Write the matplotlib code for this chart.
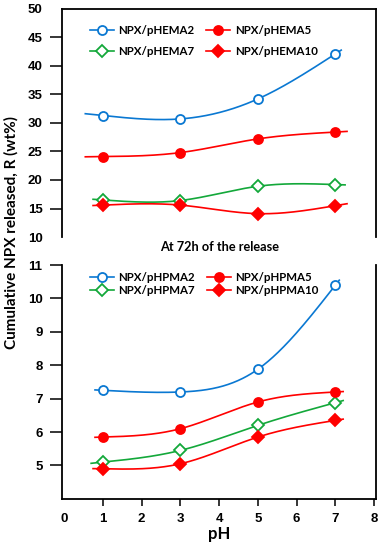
import numpy as np
import matplotlib
matplotlib.use("Agg")
import matplotlib.pyplot as plt

# pH values
ph = [1, 3, 5, 7]

# top panel: pHEMA series (wt%)
phema2 = [31.3, 30.7, 34.2, 42.1]
phema5 = [24.1, 24.8, 27.2, 28.4]
phema7 = [16.5, 16.4, 18.9, 19.2]
phema10 = [15.6, 15.6, 14.1, 15.5]

# bottom panel: pHPMA series (wt%)
phpma2 = [7.25, 7.2, 7.88, 10.4]
phpma5 = [5.85, 6.1, 6.9, 7.2]
phpma7 = [5.1, 5.45, 6.2, 6.88]
phpma10 = [4.9, 5.05, 5.85, 6.35]

top_ticks = [10, 15, 20, 25, 30, 35, 40, 45, 50]
bot_ticks = [5, 6, 7, 8, 9, 10, 11]
x_ticks = [0, 1, 2, 3, 4, 5, 6, 7, 8]

blue = '#0a78d2'
red = '#ff0000'
green = '#13a83a'
tickfont = 'Liberation Sans'
txtfont = 'Lato'

fig = plt.figure(figsize=(3.83, 5.5), dpi=100)
ax1 = fig.add_axes([0.162, 0.569, 0.82, 0.415])
ax2 = fig.add_axes([0.162, 0.093, 0.82, 0.425])


def natural_spline(x, y, xs):
    # natural cubic spline, straight line past the end points
    x = np.asarray(x, float)
    y = np.asarray(y, float)
    n = len(x)
    h = np.diff(x)
    A = np.zeros((n, n))
    b = np.zeros(n)
    A[0, 0] = A[-1, -1] = 1
    for i in range(1, n - 1):
        A[i, i - 1] = h[i - 1]
        A[i, i] = 2 * (h[i - 1] + h[i])
        A[i, i + 1] = h[i]
        b[i] = 6 * ((y[i + 1] - y[i]) / h[i] - (y[i] - y[i - 1]) / h[i - 1])
    M = np.linalg.solve(A, b)
    out = np.empty_like(xs)
    for k, t in enumerate(xs):
        if t < x[0]:
            s = (y[1] - y[0]) / h[0] - h[0] * (2 * M[0] + M[1]) / 6
            out[k] = y[0] + s * (t - x[0])
            continue
        if t > x[-1]:
            s = (y[-1] - y[-2]) / h[-1] + h[-1] * (M[-2] + 2 * M[-1]) / 6
            out[k] = y[-1] + s * (t - x[-1])
            continue
        i = min(np.searchsorted(x, t) - 1, n - 2)
        i = max(i, 0)
        a = x[i + 1] - t
        c = t - x[i]
        out[k] = (M[i] * a ** 3 + M[i + 1] * c ** 3) / (6 * h[i]) \
            + (y[i] / h[i] - M[i] * h[i] / 6) * a \
            + (y[i + 1] / h[i] - M[i + 1] * h[i] / 6) * c
    return out


def smooth(ax, y, color, marker, filled, x0, x1, label):
    xs = np.linspace(x0, x1, 300)
    ax.plot(xs, natural_spline(ph, y, xs), color=color, lw=1.2, zorder=2)
    face = color if filled else 'white'
    ms = 6.5 if marker == 'o' else 6
    ax.plot(ph, y, linestyle='none', marker=marker, ms=ms, mfc=face,
            mec=color, mew=1.3, zorder=3)
    h, = ax.plot([], [], color=color, lw=1.2, marker=marker, ms=ms,
                 mfc=face, mec=color, mew=1.3, label=label)
    return h


hs = []
hs.append(smooth(ax1, phema2, blue, 'o', False, 0.55, 7.15, 'NPX/pHEMA2'))
hs.append(smooth(ax1, phema7, green, 'D', False, 0.75, 7.25, 'NPX/pHEMA7'))
hs.append(smooth(ax1, phema5, red, 'o', True, 0.55, 7.3, 'NPX/pHEMA5'))
hs.append(smooth(ax1, phema10, red, 'D', True, 0.75, 7.3, 'NPX/pHEMA10'))

hb = []
hb.append(smooth(ax2, phpma2, blue, 'o', False, 0.8, 7.1, 'NPX/pHPMA2'))
hb.append(smooth(ax2, phpma7, green, 'D', False, 0.7, 7.2, 'NPX/pHPMA7'))
hb.append(smooth(ax2, phpma5, red, 'o', True, 0.8, 7.2, 'NPX/pHPMA5'))
hb.append(smooth(ax2, phpma10, red, 'D', True, 0.75, 7.2, 'NPX/pHPMA10'))

legprop = {'family': txtfont, 'weight': 'bold', 'size': 8.3}
ax1.legend(handles=hs, ncol=2, loc='upper left', bbox_to_anchor=(0.055, 0.975),
           frameon=False, prop=legprop, handlelength=2.1, handletextpad=0.4,
           columnspacing=1.0, labelspacing=0.9)
ax2.legend(handles=hb, ncol=2, loc='upper left', bbox_to_anchor=(0.055, 1.015),
           frameon=False, prop=legprop, handlelength=2.1, handletextpad=0.4,
           columnspacing=1.0, labelspacing=0.2)

for ax in (ax1, ax2):
    ax.set_xlim(-0.05, 8.05)
    for s in ax.spines.values():
        s.set_linewidth(1.3)
    ax.tick_params(axis='y', direction='out', width=1.1, length=9, pad=5)
    ax.tick_params(axis='x', direction='out', width=1.1, length=5, pad=5)

ax1.set_ylim(10, 50)
ax1.set_yticks(top_ticks)
ax1.spines['bottom'].set_visible(False)
ax1.set_xticks([])
ax2.set_ylim(4, 11)
ax2.set_yticks(bot_ticks)
ax2.spines['top'].set_visible(False)
ax2.set_xticks(x_ticks)

# no tick mark at the top of the upper panel or at pH 0
ax1.yaxis.get_major_ticks()[-1].tick1line.set_visible(False)
ax1.yaxis.get_major_ticks()[0].tick1line.set_visible(False)
ax2.xaxis.get_major_ticks()[0].tick1line.set_visible(False)

for ax in (ax1, ax2):
    for lab in ax.get_yticklabels() + ax.get_xticklabels():
        lab.set_fontfamily(tickfont)
        lab.set_fontweight('bold')
        lab.set_fontsize(9.5)

ax2.set_xlabel('pH', fontfamily=txtfont, fontweight='bold', fontsize=12,
               labelpad=1)
fig.text(0.573, 0.561, 'At 72h of the release', ha='center', va='top',
         fontfamily=txtfont, fontweight='bold', fontsize=9.2)
fig.text(0.03, 0.578, 'Cumulative NPX released, R (wt%)', rotation=90,
         ha='center', va='center', fontfamily=txtfont, fontweight='bold',
         fontsize=11)

fig.savefig('out.png', dpi=100)
